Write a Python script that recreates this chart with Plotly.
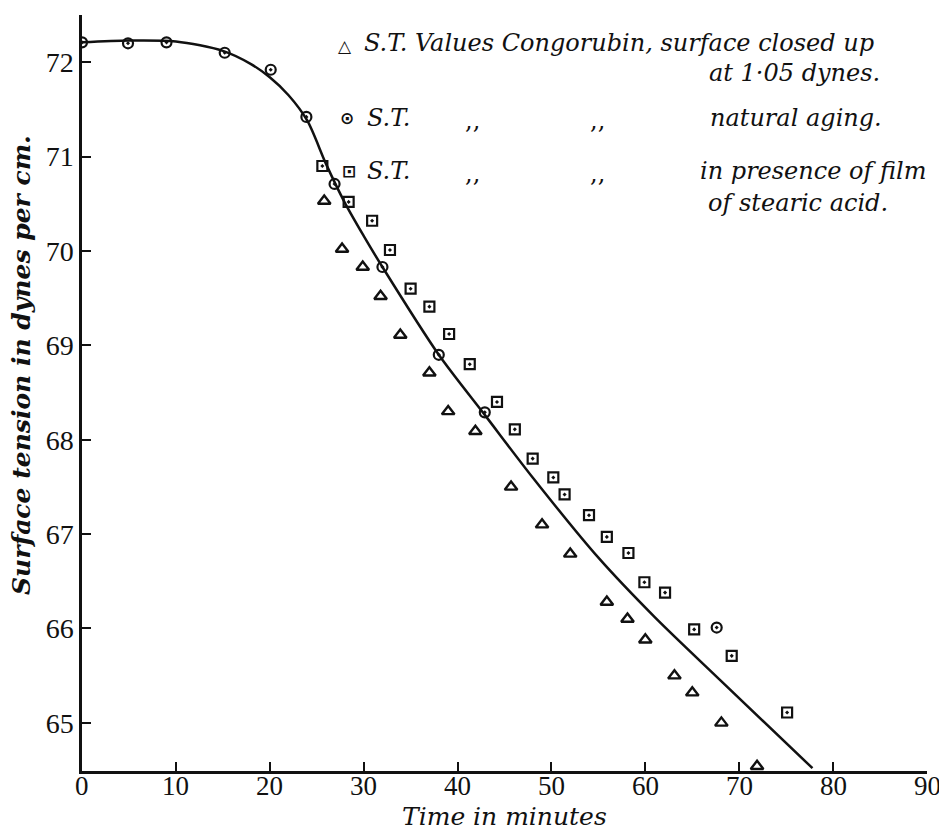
import plotly.graph_objects as go

# ---- data ----
time_natural = [0, 4.9, 9.0, 15.2, 20.1, 23.9, 26.9, 32.0, 38.0, 42.9, 67.6]
st_natural = [72.21, 72.20, 72.21, 72.10, 71.92, 71.42, 70.71, 69.83, 68.90, 68.29, 66.01]

time_closed = [25.8, 27.7, 29.9, 31.8, 33.9, 37.0, 39.0, 41.9, 45.7, 49.0, 52.0,
               55.9, 58.1, 60.0, 63.1, 65.0, 68.1, 71.9]
st_closed = [70.53, 70.02, 69.83, 69.52, 69.11, 68.71, 68.30, 68.09, 67.50, 67.10, 66.79,
             66.28, 66.10, 65.88, 65.50, 65.32, 65.00, 64.54]

time_stearic = [25.6, 28.4, 30.9, 32.8, 35.0, 37.0, 39.1, 41.3, 44.2, 46.1, 48.0,
                50.2, 51.4, 54.0, 55.9, 58.2, 59.9, 62.1, 65.2, 69.2, 75.1]
st_stearic = [70.90, 70.52, 70.32, 70.01, 69.60, 69.41, 69.12, 68.80, 68.40, 68.11, 67.80,
              67.60, 67.42, 67.20, 66.97, 66.80, 66.49, 66.38, 65.99, 65.71, 65.11]

curve_time = [0, 5, 10, 15, 18, 20, 22, 24, 26, 28, 30, 32, 38, 43, 48, 55, 61, 68, 77.8]
curve_st = [72.21, 72.23, 72.22, 72.12, 71.98, 71.84, 71.65, 71.38, 70.92, 70.51, 70.16,
            69.83, 68.90, 68.25, 67.60, 66.75, 66.12, 65.45, 64.52]

x_ticks = [0, 10, 20, 30, 40, 50, 60, 70, 80, 90]
y_ticks = [65, 66, 67, 68, 69, 70, 71, 72]

# ---- layout geometry (pixels); page body adds an 8px offset ----
OFF = 8
W, H = 939, 822
ML, MR, MT, MB = 74, 20, 7, 59
PW, PH = W - ML - MR, H - MT - MB


def px(x):  # window pixel -> paper x
    return (x - OFF - ML) / PW


def py(y):  # window pixel -> paper y
    return (H - MB - (y - OFF)) / PH


SERIF = "DejaVu Serif, Liberation Serif, serif"
TICK = "Liberation Serif, Times New Roman, serif"
INK = "#111111"

fig = go.Figure()
fig.add_trace(go.Scatter(x=curve_time, y=curve_st, mode="lines",
                         line=dict(color=INK, width=2.5, shape="spline", smoothing=0.8),
                         hoverinfo="skip", showlegend=False))
fig.add_trace(go.Scatter(x=time_closed, y=st_closed, mode="markers",
                         marker=dict(symbol="triangle-up-open", size=11, color=INK,
                                     line=dict(width=2.4, color=INK)),
                         showlegend=False))
fig.add_trace(go.Scatter(x=time_natural, y=st_natural, mode="markers",
                         marker=dict(symbol="circle-open-dot", size=10, color=INK,
                                     line=dict(width=2.2, color=INK)),
                         showlegend=False))
fig.add_trace(go.Scatter(x=time_stearic, y=st_stearic, mode="markers",
                         marker=dict(symbol="square-open-dot", size=10, color=INK,
                                     line=dict(width=2.2, color=INK)),
                         showlegend=False))

ann = []
leg_font = dict(family=SERIF, size=24, color=INK)
sym_font = dict(family="DejaVu Sans", size=17, color=INK)
# legend block
ann.append(dict(text="<b>△</b>", x=px(345), y=py(46), font=sym_font))
ann.append(dict(text="<i>S.T. Values Congorubin, surface closed up</i>", x=px(362), y=py(43),
                xanchor="left", font=leg_font))
ann.append(dict(text="<i>at 1·05 dynes.</i>", x=px(882), y=py(73), xanchor="right", font=leg_font))
ann.append(dict(text="<b>⊙</b>", x=px(347), y=py(118), font=sym_font))
ann.append(dict(text="<i>S.T.</i>", x=px(365), y=py(118), xanchor="left", font=leg_font))
ann.append(dict(text=",,", x=px(472), y=py(121), font=leg_font))
ann.append(dict(text=",,", x=px(597), y=py(121), font=leg_font))
ann.append(dict(text="<i>natural aging.</i>", x=px(708), y=py(118), xanchor="left", font=leg_font))
ann.append(dict(text="<b>⊡</b>", x=px(349), y=py(171), font=sym_font))
ann.append(dict(text="<i>S.T.</i>", x=px(365), y=py(171), xanchor="left", font=leg_font))
ann.append(dict(text=",,", x=px(472), y=py(174), font=leg_font))
ann.append(dict(text=",,", x=px(597), y=py(174), font=leg_font))
ann.append(dict(text="<i>in presence of film</i>", x=px(698), y=py(171), xanchor="left", font=leg_font))
ann.append(dict(text="<i>of stearic acid.</i>", x=px(706), y=py(203), xanchor="left", font=leg_font))
# axis titles
ann.append(dict(text="<b><i>Surface tension in dynes per cm.</i></b>", x=px(22), y=py(365),
                textangle=-90, font=dict(family=SERIF, size=25, color=INK)))
ann.append(dict(text="<i>Time in minutes</i>", x=px(504), y=py(816),
                font=dict(family=SERIF, size=25, color=INK)))
for a in ann:
    a.setdefault("xref", "paper")
    a.setdefault("yref", "paper")
    a.setdefault("showarrow", False)
    a.setdefault("xanchor", "center")
    a.setdefault("yanchor", "middle")
# x tick labels placed close under the axis
for v in x_ticks:
    ann.append(dict(text=str(v), x=v, xref="x", y=0, yref="paper", yanchor="middle",
                    xanchor="center", yshift=-15, showarrow=False,
                    font=dict(family=TICK, size=27, color=INK)))

fig.update_layout(
    width=W, height=H,
    margin=dict(l=ML, r=MR, t=MT, b=MB),
    paper_bgcolor="white", plot_bgcolor="white",
    annotations=ann,
    showlegend=False,
)
fig.update_xaxes(range=[0, 90], tickvals=x_ticks, showticklabels=False,
                 showgrid=False, zeroline=False, showline=True, linecolor=INK, linewidth=2.5,
                 ticks="inside", ticklen=9, tickwidth=2, tickcolor=INK)
fig.update_yaxes(range=[64.49, 72.5], tickvals=y_ticks, ticktext=[str(v) for v in y_ticks],
                 showgrid=False, zeroline=False, showline=True, linecolor=INK, linewidth=2.5,
                 ticks="inside", ticklen=9, tickwidth=2, tickcolor=INK,
                 tickfont=dict(family=TICK, size=28, color=INK))

fig.write_html("out.html")
